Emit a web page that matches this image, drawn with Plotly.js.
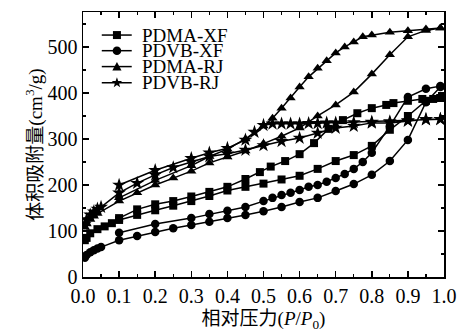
<!DOCTYPE html>
<html>
<head>
<meta charset="utf-8">
<script src="https://cdn.plot.ly/plotly-3.0.1.min.js"></script>
<style>html,body{margin:0;padding:0;background:#fff;}#chart{width:459px;height:336px;}</style>
</head>
<body>
<div id="chart"></div>
<script>
// ---- Data ----
const seriesNames = ['PDMA-XF', 'PDVB-XF', 'PDMA-RJ', 'PDVB-RJ'];

// PDMA-XF (squares)
const pdmaXfAdsX = [0.005,0.01,0.02,0.04,0.06,0.08,0.1,0.15,0.2,0.25,0.3,0.35,0.4,0.45,0.5,0.55,0.6,0.65,0.7,0.75,0.8,0.85,0.9,0.95,0.99];
const pdmaXfAdsY = [80,85,95,104,110,117,124,135,145,155,165,176,188,196,203,212,220,235,252,265,285,320,350,383,389];
const pdmaXfDesX = [0.99,0.97,0.94,0.9,0.86,0.84,0.8,0.76,0.72,0.68,0.64,0.6,0.56,0.52,0.49,0.45,0.4,0.35,0.3,0.25,0.2,0.15,0.1];
const pdmaXfDesY = [389,387,387,383,378,374,367,356,341,322,291,267,252,240,228,213,196,185,175,165,158,147,128];

// PDVB-XF (circles)
const pdvbXfAdsX = [0.005,0.01,0.02,0.03,0.04,0.05,0.1,0.15,0.2,0.25,0.3,0.35,0.4,0.45,0.5,0.55,0.6,0.65,0.7,0.75,0.8,0.85,0.9,0.95,0.99];
const pdvbXfAdsY = [42,48,54,58,62,65,80,89,98,106,113,120,128,135,143,152,163,172,187,202,222,252,298,380,413];
const pdvbXfDesX = [0.99,0.95,0.9,0.85,0.8,0.775,0.75,0.725,0.7,0.675,0.65,0.625,0.6,0.575,0.55,0.525,0.5,0.45,0.4,0.35,0.3,0.2,0.1];
const pdvbXfDesY = [415,409,391,328,270,250,235,224,215,207,200,196,189,183,178,172,165,152,144,137,128,115,96];

// PDMA-RJ (triangles)
const pdmaRjAdsX = [0.005,0.01,0.02,0.03,0.04,0.1,0.15,0.2,0.25,0.3,0.35,0.4,0.45,0.5,0.55,0.6,0.65,0.7,0.75,0.8,0.85,0.9,0.95,0.99];
const pdmaRjAdsY = [108,115,125,132,138,165,183,200,215,230,248,261,274,290,306,324,350,374,402,441,483,522,536,541];
const pdmaRjDesX = [0.99,0.95,0.9,0.85,0.8,0.775,0.75,0.725,0.7,0.675,0.65,0.625,0.6,0.575,0.55,0.525,0.5,0.45,0.4,0.35,0.3,0.2,0.1];
const pdmaRjDesY = [541,539,535,532,526,522,511,500,487,470,454,435,413,389,367,345,328,300,278,262,242,210,172];

// PDVB-RJ (stars)
const pdvbRjAdsX = [0.005,0.01,0.02,0.03,0.04,0.05,0.1,0.15,0.2,0.25,0.3,0.35,0.4,0.45,0.5,0.55,0.6,0.65,0.7,0.75,0.8,0.85,0.9,0.95,0.99];
const pdvbRjAdsY = [115,125,135,142,148,152,183,204,222,238,250,262,268,276,286,295,302,313,324,328,335,335,339,343,343];
const pdvbRjDesX = [0.99,0.95,0.9,0.85,0.8,0.75,0.7,0.675,0.65,0.625,0.6,0.575,0.55,0.525,0.5,0.475,0.45,0.4,0.35,0.3,0.2,0.1];
const pdvbRjDesY = [343,342,340,338,337,336,335,335,334,334,333,333,333,333,330,315,298,280,270,258,232,200];

const xTickVals = [0,0.1,0.2,0.3,0.4,0.5,0.6,0.7,0.8,0.9,1.0];
const xTickText = ['0.0','0.1','0.2','0.3','0.4','0.5','0.6','0.7','0.8','0.9','1.0'];
const yTickVals = [0,100,200,300,400,500];
const yTickText = ['0','100','200','300','400','500'];

// ---- Build ----
const serif = 'Liberation Serif, Noto Sans CJK SC, serif';
const symbols = ['square','circle','triangle-up','star'];
const sizes = [8,8.5,9,10.5];
const xs = [pdmaXfAdsX.concat(pdmaXfDesX), pdvbXfAdsX.concat(pdvbXfDesX), pdmaRjAdsX.concat(pdmaRjDesX), pdvbRjAdsX.concat(pdvbRjDesX)];
const ys = [pdmaXfAdsY.concat(pdmaXfDesY), pdvbXfAdsY.concat(pdvbXfDesY), pdmaRjAdsY.concat(pdmaRjDesY), pdvbRjAdsY.concat(pdvbRjDesY)];

const traces = seriesNames.map((n,i)=>({
  type:'scatter', mode:'lines+markers', name:n, x:xs[i], y:ys[i],
  line:{color:'#000', width:1.5},
  marker:{symbol:symbols[i], size:sizes[i], color:'#000', line:{width:0}},
  showlegend:false, hoverinfo:'skip'
}));

// custom compact legend (paper coords)
const legRows = [0.913, 0.854, 0.794, 0.733];
const legX0 = 0.052, legX1 = 0.135, legMx = 0.094, legTx = 0.158;
const starPath = 'M0,5.5 L1.29,1.78 L5.23,1.7 L2.09,-0.68 L3.23,-4.45 L0,-2.2 L-3.23,-4.45 L-2.09,-0.68 L-5.23,1.7 L-1.29,1.78 Z';
const markerShapes = [
  {type:'rect', x0:-4, x1:4, y0:-4, y1:4},
  {type:'circle', x0:-4.3, x1:4.3, y0:-4.3, y1:4.3},
  {type:'path', path:'M-4.6,-3.8 L4.6,-3.8 L0,4.6 Z'},
  {type:'path', path:starPath}
];
const shapes = [];
const annotations = [];
seriesNames.forEach((n,i)=>{
  shapes.push({type:'line', xref:'paper', yref:'paper', x0:legX0, x1:legX1, y0:legRows[i], y1:legRows[i], line:{color:'#000', width:1.5}});
  const m = Object.assign({xref:'paper', yref:'paper', xsizemode:'pixel', ysizemode:'pixel', xanchor:legMx, yanchor:legRows[i], fillcolor:'#000', line:{width:0}}, markerShapes[i]);
  shapes.push(m);
  annotations.push({xref:'paper', yref:'paper', x:legTx, y:legRows[i], xanchor:'left', yanchor:'middle', text:n, showarrow:false, font:{family:serif, size:19, color:'#000'}});
});

const axisCommon = {
  showline:true, linecolor:'#000', linewidth:1.5, mirror:'ticks',
  ticks:'inside', ticklen:6, tickwidth:1.5, tickcolor:'#000',
  showgrid:false, zeroline:false,
  tickfont:{family:serif, size:20, color:'#000'}
};

const layout = {
  width:459, height:336,
  margin:{l:83, r:15, t:12, b:59},
  paper_bgcolor:'#fff', plot_bgcolor:'#fff',
  font:{family:serif, color:'#000'},
  xaxis:Object.assign({}, axisCommon, {
    range:[0,1], tickmode:'array', tickvals:xTickVals, ticktext:xTickText,
    minor:{ticks:'inside', ticklen:3, tickwidth:1.2, tickcolor:'#000', dtick:0.05, tick0:0},
    title:{text:'相对压力(<i>P</i>/<i>P</i><sub>0</sub>)', font:{family:serif, size:19, color:'#000'}, standoff:6}
  }),
  yaxis:Object.assign({}, axisCommon, {
    range:[0,576], tickmode:'array', tickvals:yTickVals, ticktext:yTickText,
    minor:{ticks:'inside', ticklen:3, tickwidth:1.2, tickcolor:'#000', dtick:50, tick0:0},
    title:{text:'体积吸附量(cm<sup>3</sup>/g)', font:{family:serif, size:19, color:'#000'}, standoff:0}
  }),
  shapes:shapes, annotations:annotations, showlegend:false
};

Plotly.newPlot('chart', traces, layout, {displayModeBar:false, staticPlot:true});
</script>
</body>
</html>
